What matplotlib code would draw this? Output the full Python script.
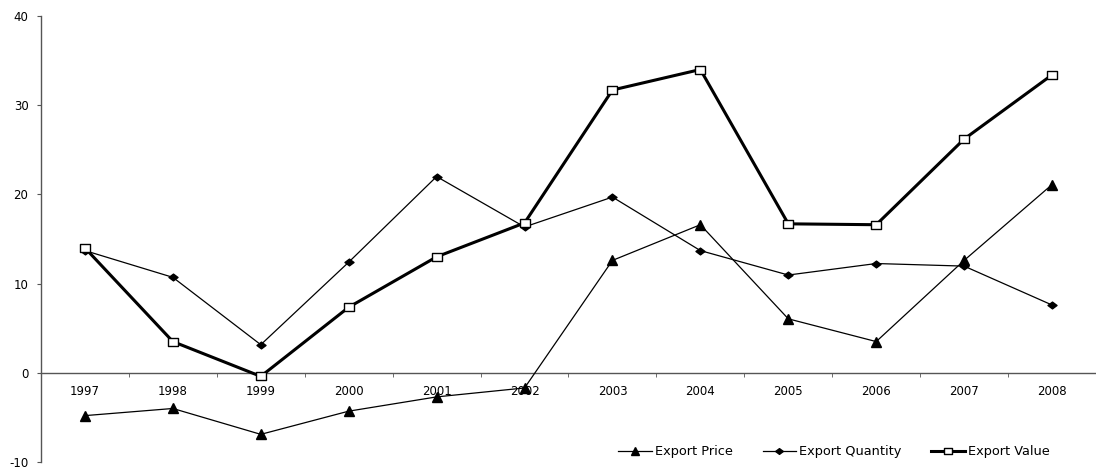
import matplotlib
matplotlib.use('Agg')
import matplotlib.pyplot as plt
import numpy as np
from matplotlib.path import Path

plt.rcParams['font.family'] = ['DejaVu Sans']
plt.rcParams['axes.unicode_minus'] = False

years = ['1997', '1998', '1999', '2000', '2001', '2002',
         '2003', '2004', '2005', '2006', '2007', '2008']
export_price = [-4.8, -4.0, -6.9, -4.3, -2.7, -1.7, 12.6, 16.6, 6.05, 3.5, 12.6, 21.1]
export_quantity = [13.7, 10.7, 3.15, 12.4, 22.0, 16.35, 19.7, 13.7, 10.96, 12.25, 11.96, 7.6]
export_value = [14.0, 3.5, -0.4, 7.35, 13.0, 16.8, 31.7, 34.0, 16.7, 16.6, 26.2, 33.4]

x = np.arange(len(years))

# slightly flattened marker shapes, like the Excel original
rect = Path([(-1, -0.7), (1, -0.7), (1, 0.7), (-1, 0.7), (-1, -0.7)],
            [Path.MOVETO, Path.LINETO, Path.LINETO, Path.LINETO, Path.CLOSEPOLY])
diamond = Path([(-1, 0), (0, 0.75), (1, 0), (0, -0.75), (-1, 0)],
               [Path.MOVETO, Path.LINETO, Path.LINETO, Path.LINETO, Path.CLOSEPOLY])

fig = plt.figure(figsize=(10.96, 4.70), dpi=100)
ax = fig.add_axes([0.0374, 0.017, 0.9626, 0.949])

ax.plot(x, export_price, color='black', lw=0.9, marker='^', markersize=7,
        label='Export Price', zorder=3)
ax.plot(x, export_quantity, color='black', lw=0.9, marker=diamond, markersize=6.5,
        label='Export Quantity', zorder=3)
ax.plot(x, export_value, color='black', lw=2.2, marker=rect, markersize=7.5,
        markerfacecolor='white', markeredgecolor='black', markeredgewidth=1,
        label='Export Value', zorder=4)

ax.set_xlim(-0.5, 11.5)
ax.set_ylim(-10, 40)
ax.set_yticks(range(-10, 41, 10))

# x axis sits on the zero line, ticks between categories
ax.spines['bottom'].set_position(('data', 0))
ax.spines['top'].set_visible(False)
ax.spines['right'].set_visible(False)
for s in ('left', 'bottom'):
    ax.spines[s].set_color('#555555')
    ax.spines[s].set_linewidth(1)

ax.set_xticks(x)
ax.set_xticklabels(years)
ax.set_xticks(np.arange(-0.5, 12, 1), minor=True)
ax.tick_params(axis='x', which='major', length=0, pad=9, labelsize=8.5)
ax.tick_params(axis='x', which='minor', length=3, direction='out', color='#555555')
ax.tick_params(axis='y', length=3, direction='out', color='#555555', labelsize=8.5, pad=6)

ax.legend(loc='center right', bbox_to_anchor=(1050 / 1096, (470 - 452) / 470),
          bbox_transform=fig.transFigure, ncol=3, frameon=False, borderpad=0,
          borderaxespad=0, fontsize=9.3, handlelength=2.6, columnspacing=2.3,
          handletextpad=0.25, markerscale=0.85)

fig.savefig('out.png', dpi=100)
